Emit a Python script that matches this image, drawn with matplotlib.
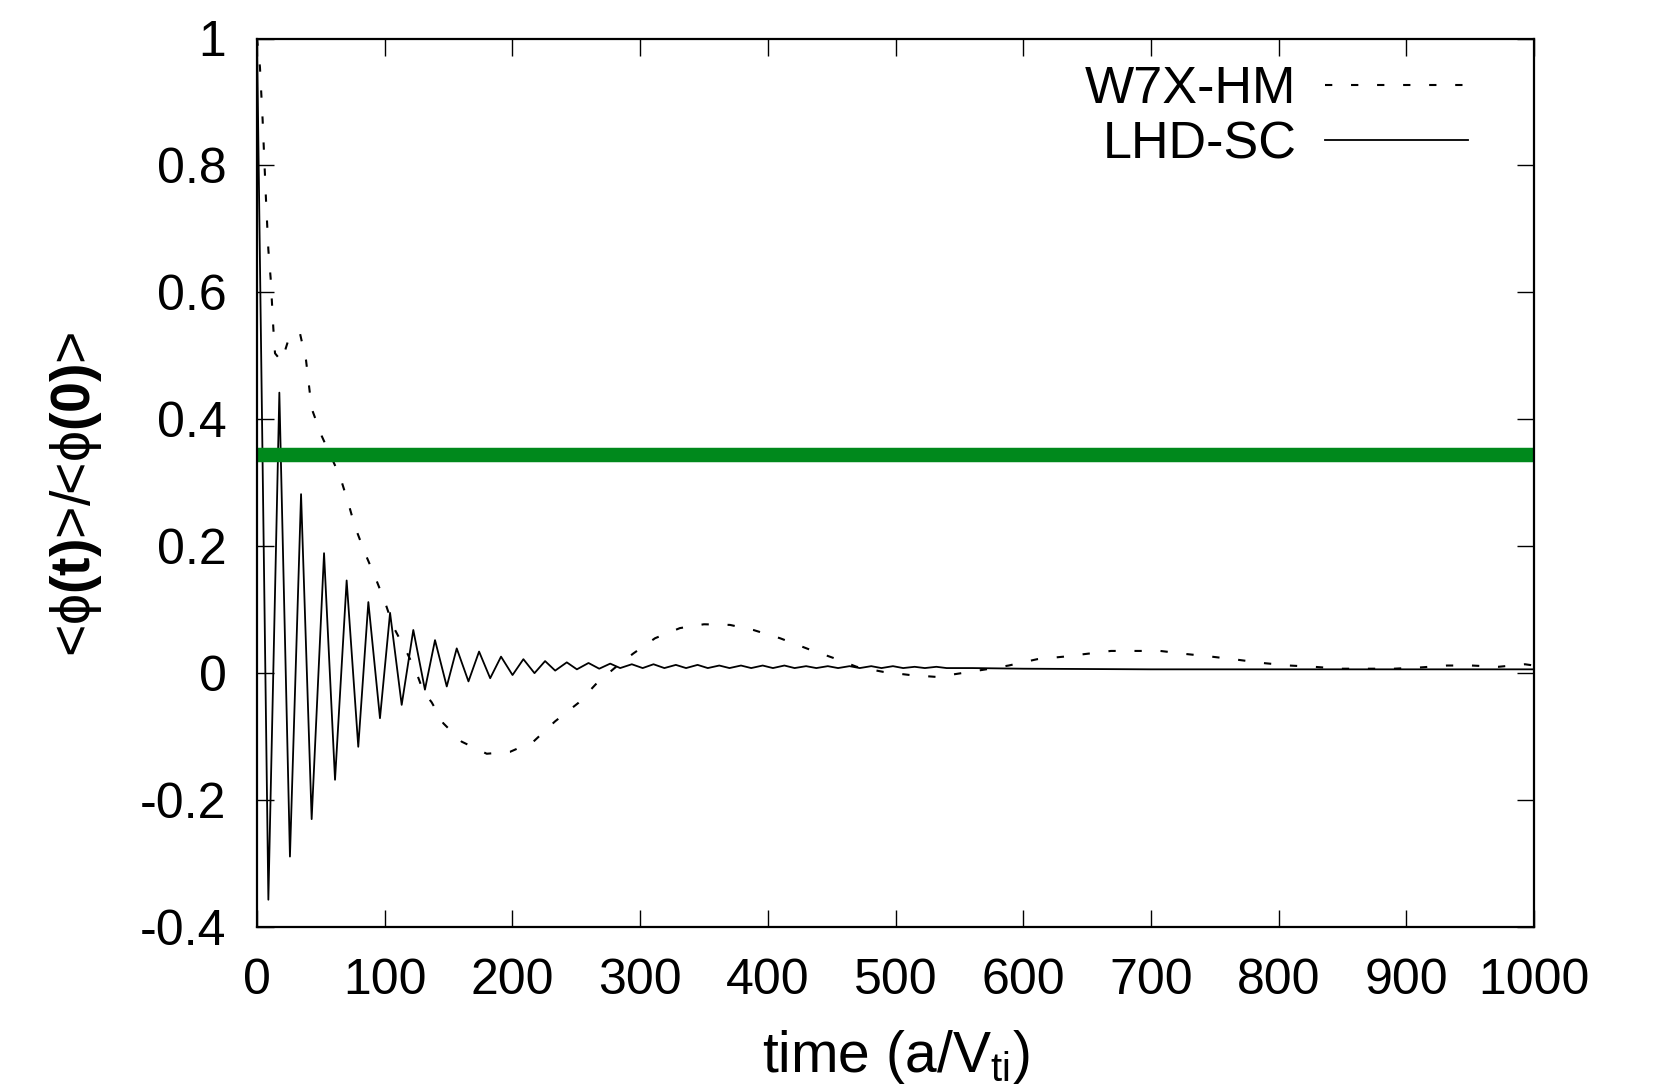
import matplotlib
matplotlib.use("Agg")
import matplotlib.pyplot as plt

plt.rcParams['font.family'] = ['Liberation Sans', 'DejaVu Sans']
plt.rcParams['axes.unicode_minus'] = False
plt.rcParams['mathtext.fontset'] = 'custom'
plt.rcParams['mathtext.rm'] = 'Liberation Sans'
plt.rcParams['mathtext.bf'] = 'Liberation Sans:bold'
plt.rcParams['mathtext.it'] = 'Liberation Sans'

# W7X-HM zonal flow response (dashed)
w7x_t = [0, 2.3, 4.4, 7, 8.9, 10.7, 12.8, 14.1, 19.3, 25.8, 33.7, 38.4, 42.8,
         50.6, 65, 71.5, 76.7, 84.6, 92.4, 100.2, 106.8, 118, 125, 130.3, 136.8,
         145.9, 160.3, 179.9, 198.1, 216.4, 233.4, 251.6, 266, 280, 294.7, 311.7,
         331.2, 350, 370.4, 388.7, 409.6, 433, 451.3, 469.6, 490.4, 511.5, 532.4,
         551.7, 570.9, 588.6, 611, 631.9, 648, 668.8, 689.7, 707.3, 728.2, 747.5,
         768.3, 787.5, 808.4, 827.6, 848.6, 869.4, 890.3, 911.1, 931.9, 951.2,
         972.1, 992.9, 1000]
w7x_v = [1.0, 0.955, 0.872, 0.748, 0.667, 0.622, 0.543, 0.504, 0.491, 0.533, 0.535,
         0.493, 0.417, 0.374, 0.310, 0.268, 0.231, 0.189, 0.152, 0.112, 0.073, 0.030,
         0.0, -0.029, -0.046, -0.079, -0.108, -0.127, -0.124, -0.108, -0.076, -0.047,
         -0.016, 0.008, 0.031, 0.055, 0.071, 0.077, 0.076, 0.068, 0.055, 0.037, 0.024,
         0.010, 0.002, -0.003, -0.006, 0.0, 0.006, 0.012, 0.022, 0.026, 0.030, 0.035,
         0.035, 0.035, 0.030, 0.026, 0.021, 0.016, 0.012, 0.010, 0.007, 0.007, 0.007,
         0.009, 0.012, 0.012, 0.010, 0.014, 0.012]

# LHD-SC response (solid): extrema of the GAM oscillation, then the residual
lhd_t = [0, 8.9, 17.5, 25.8, 34.5, 42.8, 52.5, 61.1, 70.2, 79.3, 87.2, 96.3, 104.2,
         113.3, 122.4, 131.5, 139.4, 148.6, 156.4, 165.6, 173.9, 182.6, 191.1, 200.1,
         208.6, 217.3, 225.6, 233.5, 242.6, 250.5, 259.6, 268, 276.6, 284.4, 293.5,
         302, 310.5, 319, 328, 336, 345, 353, 362, 370, 379, 387, 396, 404, 413, 421,
         430, 438, 447, 455, 464, 472, 481, 489, 498, 506, 515, 523, 532, 540, 560,
         600, 700, 800, 900, 1000]
lhd_v = [1.0, -0.357, 0.442, -0.289, 0.282, -0.230, 0.189, -0.168, 0.146, -0.116,
         0.112, -0.071, 0.095, -0.050, 0.068, -0.026, 0.052, -0.021, 0.039, -0.013,
         0.034, -0.008, 0.026, -0.003, 0.022, 0.000, 0.019, 0.004, 0.017, 0.006,
         0.016, 0.007, 0.015, 0.008, 0.014, 0.008, 0.014, 0.008, 0.013, 0.008, 0.013,
         0.008, 0.012, 0.008, 0.012, 0.008, 0.012, 0.008, 0.012, 0.008, 0.011, 0.008,
         0.011, 0.008, 0.011, 0.008, 0.011, 0.008, 0.011, 0.008, 0.010, 0.008, 0.010,
         0.008, 0.008, 0.007, 0.006, 0.006, 0.006, 0.006]

residual_level = 0.343

x_ticks = [0, 100, 200, 300, 400, 500, 600, 700, 800, 900, 1000]
y_ticks = [-0.4, -0.2, 0, 0.2, 0.4, 0.6, 0.8, 1]
y_tick_labels = ["-0.4", "-0.2", "0", "0.2", "0.4", "0.6", "0.8", "1"]

W, H = 1660, 1086
fig = plt.figure(figsize=(W / 100, H / 100), dpi=100)
ax = fig.add_axes([257 / W, 1 - 927 / H, (1534 - 257) / W, (927 - 38.5) / H])

ax.plot(w7x_t, w7x_v, color='black', linewidth=1.5, linestyle=(0, (3.5, 9)),
        label='W7X-HM')
ax.plot(lhd_t, lhd_v, color='black', linewidth=1.3, label='LHD-SC')
ax.axhline(residual_level, color='#00891c', linewidth=10.4)

ax.set_xlim(0, 1000)
ax.set_ylim(-0.4, 1)
ax.set_xticks(x_ticks)
ax.set_xticklabels([str(v) for v in x_ticks])
ax.set_yticks(y_ticks)
ax.set_yticklabels(y_tick_labels)
ax.tick_params(axis='both', direction='in', length=12, width=1.0, labelsize=36,
               top=True, right=True)
ax.tick_params(axis='x', pad=22)
ax.tick_params(axis='y', pad=22)
for s in ax.spines.values():
    s.set_linewidth(1.6)

ax.set_xlabel(r'time (a/V$_{\mathrm{ti}}$)', fontsize=41, va='baseline')
ax.xaxis.set_label_coords(0.5, -0.163)
ax.set_ylabel(r'<ϕ$\mathbf{(t)}$>/<ϕ$\mathbf{(0)}$>', fontsize=40, va='center')
ax.yaxis.set_label_coords(-0.142, 0.487)

leg = ax.legend(loc='upper right', markerfirst=False, frameon=False, fontsize=37.5,
                handlelength=2.75, handletextpad=0.55, labelspacing=0.12,
                borderaxespad=0.0, bbox_to_anchor=(1489 / W, 1 - 44 / H),
                bbox_transform=fig.transFigure)

fig.savefig("out.png", dpi=100)
